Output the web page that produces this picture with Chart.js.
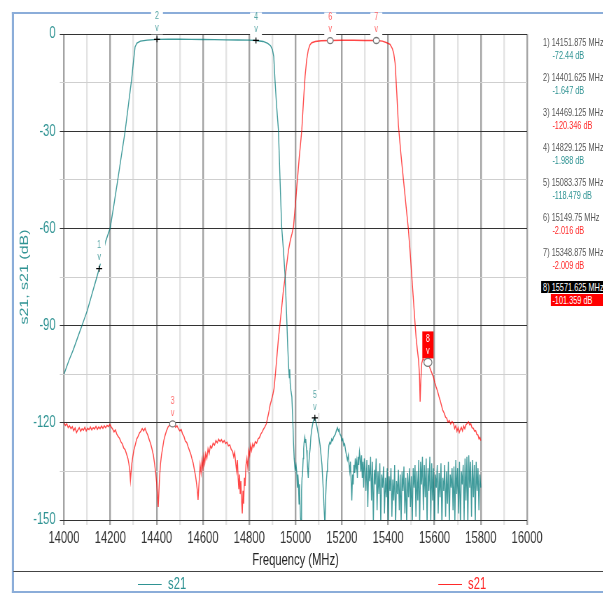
<!DOCTYPE html>
<html>
<head>
<meta charset="utf-8">
<script src="https://cdn.jsdelivr.net/npm/chart.js@4.4.1/dist/chart.umd.min.js"></script>
<style>
  html, body { margin: 0; padding: 0; background: #fff; overflow: hidden; }
  body { width: 603px; height: 593px; position: relative; }
  /* the whole plot is drawn wide and squeezed horizontally, like the source screenshot */
  #stage { position: absolute; left: 0; top: 0; width: 862px; height: 593px;
           transform: scaleX(0.7); transform-origin: 0 0;
           font-family: "Liberation Sans", Arial, sans-serif; }
  #frame { position: absolute; left: 17px; top: 12px; width: 900px; height: 577px;
           border-left: 3px solid #8badd9; border-top: 2px solid #8badd9; border-bottom: 2px solid #8badd9; }
  #sep { position: absolute; left: 19px; top: 571px; width: 900px; height: 1px; background: #444; }
  canvas { position: absolute; left: 0; top: 0; }
  .leg { position: absolute; top: 574px; height: 20px; line-height: 20px; font-size: 16px; white-space: nowrap; }
  .leg span { display: inline-block; width: 34px; height: 0; border-top: 1px solid; vertical-align: middle; margin-right: 9px; }
  .ro { position: absolute; font-size: 10.5px; line-height: 12px; height: 12px; white-space: nowrap; }
</style>
</head>
<body>
<div id="stage">
  <div id="frame"></div>
  <canvas id="chart" width="862" height="593"></canvas>
  <div id="sep"></div>
  <div id="legend"></div>
  <div id="readout"></div>
</div>
<script>
// --- data ---
const xTicks = [14000, 14200, 14400, 14600, 14800, 15000, 15200, 15400, 15600, 15800, 16000];
const yTicks = [0, -30, -60, -90, -120, -150];

// trace 1 (teal s21)
const tealFreq = [
  14000, 14020, 14040, 14060, 14080, 14100, 14120, 14140, 14151.875, 14165, 14180, 14199, 14215, 14230, 14247, 14264,
  14278, 14292, 14300, 14307, 14315, 14330, 14360, 14401.625, 14450, 14500, 14550, 14600, 14650, 14700, 14750, 14800,
  14829.125, 14860, 14880, 14892, 14900, 14906, 14911, 14918, 14926, 14933, 14940, 14948, 14955, 14962, 14966, 14969,
  14971, 14973, 14975, 14977, 14980, 14984, 14988, 14991, 14994, 14998, 15002, 15005, 15008, 15010, 15012, 15015,
  15017, 15019, 15021, 15024, 15026, 15028, 15030, 15033, 15035, 15037, 15040, 15042, 15044, 15046, 15048, 15050,
  15052, 15055, 15057, 15060, 15063, 15066, 15070, 15075, 15080, 15083.375, 15087, 15092, 15097, 15101, 15106, 15110,
  15114, 15117, 15120, 15123, 15127, 15130, 15133, 15136, 15138, 15141, 15144, 15148, 15152, 15156, 15160, 15164,
  15168, 15172, 15176, 15181, 15185, 15188, 15192, 15196, 15200, 15204, 15208, 15212, 15216, 15220, 15224, 15228,
  15231, 15234, 15237, 15240, 15243, 15246, 15249, 15252, 15255, 15258, 15261, 15264, 15267, 15270, 15273, 15276,
  15279, 15282, 15285, 15288, 15291, 15294, 15297, 15300, 15304, 15308, 15312, 15316, 15320, 15324, 15328, 15332,
  15336, 15340, 15344, 15348, 15352, 15356, 15360, 15364, 15368, 15372, 15376, 15380, 15384, 15388, 15392, 15396,
  15400, 15404, 15408, 15412, 15416, 15420, 15424, 15428, 15432, 15436, 15440, 15444, 15448, 15452, 15456, 15460,
  15464, 15468, 15472, 15476, 15480, 15484, 15488, 15492, 15496, 15500, 15504, 15508, 15512, 15516, 15520, 15524,
  15528, 15532, 15536, 15540, 15544, 15548, 15552, 15556, 15560, 15564, 15568, 15572, 15576, 15580, 15584, 15588,
  15592, 15596, 15600, 15604, 15608, 15612, 15616, 15620, 15624, 15628, 15632, 15636, 15640, 15644, 15648, 15652,
  15656, 15660, 15664, 15668, 15672, 15676, 15680, 15684, 15688, 15692, 15696, 15700, 15704, 15708, 15712, 15716,
  15720, 15724, 15728, 15732, 15736, 15740, 15744, 15748, 15752, 15756, 15760, 15764, 15768, 15772, 15776, 15780,
  15784, 15788, 15792, 15796, 15800
];
const tealDb = [
  -105, -101, -97.5, -93.5, -89.5, -85.5, -80.5, -75.5, -72.44, -68.5, -64, -60, -53, -46, -38, -30,
  -22, -14, -8.5, -4, -2.8, -2.2, -1.9, -1.647, -1.6, -1.6, -1.65, -1.7, -1.75, -1.8, -1.85, -1.9,
  -1.988, -2.3, -2.9, -3.6, -4.8, -7, -14, -22, -29.6, -45, -59.5, -67, -75, -88, -96, -101,
  -104, -106, -103.5, -108, -110, -112, -119, -126, -131, -134.6, -133, -135, -140, -136, -138, -145,
  -139, -144, -149, -152, -141, -137, -136, -131, -128, -126, -124.5, -126, -125, -127, -128.5, -131,
  -134, -137, -133, -130, -128, -124.5, -122, -120, -118.8, -118.479, -119.5, -121, -123, -124.5, -127, -130,
  -133, -137, -141, -146, -152, -143, -138, -135, -133, -130, -127, -126, -126.5, -125, -125.5, -124.5,
  -124, -123.5, -122.5, -121.5, -122.5, -122, -123.5, -124, -125.5, -125, -127, -126.5, -128.5, -130, -131.5, -130,
  -133, -135, -132, -138, -144, -136, -139, -133, -135.5, -131, -134, -132, -137, -130.5, -133, -129,
  -131, -135, -130, -137, -132, -140, -131, -134, -141, -131.5, -146, -133, -138, -130.5, -144, -132,
  -151, -134.5, -139, -131, -147, -135, -142, -132.5, -152, -136, -140, -133.5, -148, -137, -143, -134,
  -152, -136.5, -141, -134, -149, -137.5, -144, -133, -152, -138, -142, -134.5, -147, -136, -151, -135,
  -141, -133.5, -148, -137, -152, -135.5, -143, -134, -146, -136.5, -152, -134, -140, -133, -149, -135,
  -144, -131.5, -152, -132, -139, -130.5, -147, -133, -143, -131, -152, -134, -141, -130.5, -150, -132.5,
  -144, -134, -152, -136, -140, -133, -148, -135.5, -143, -132.5, -152, -137, -141, -133, -149, -135,
  -145, -132, -152, -136, -140, -134, -147, -133.5, -151, -131.5, -142, -134, -148, -132, -152, -135,
  -139, -133, -150, -131, -144, -130.5, -152, -130, -140, -132, -149, -131.5, -143, -133, -152, -132,
  -141, -134, -147, -136, -140
];

// trace 2 (red s21)
const redFreq = [
  14000, 14006, 14012, 14018, 14024, 14030, 14036, 14042, 14048, 14054, 14060, 14066, 14072, 14078, 14084, 14090,
  14096, 14102, 14108, 14114, 14120, 14126, 14132, 14138, 14144, 14150, 14156, 14162, 14168, 14174, 14180, 14186,
  14192, 14198, 14204, 14210, 14216, 14222, 14228, 14234, 14240, 14246, 14252, 14258, 14264, 14270, 14276, 14280,
  14284, 14287, 14290, 14293, 14297, 14302, 14308, 14314, 14320, 14326, 14332, 14338, 14344, 14350, 14356, 14362,
  14368, 14374, 14380, 14386, 14391, 14396, 14400, 14404, 14407, 14410, 14413, 14417, 14421, 14426, 14431, 14437,
  14443, 14450, 14456, 14462, 14469.125, 14476, 14482, 14488, 14494, 14500, 14506, 14512, 14518, 14524, 14530, 14536,
  14542, 14548, 14553, 14558, 14563, 14568, 14572, 14576, 14579, 14582, 14585, 14588, 14592, 14596, 14600, 14604,
  14608, 14612, 14617, 14622, 14627, 14632, 14638, 14644, 14650, 14656, 14662, 14668, 14674, 14680, 14686, 14692,
  14698, 14704, 14710, 14716, 14722, 14728, 14733, 14737, 14741, 14745, 14749, 14752, 14755, 14758, 14761, 14764,
  14767, 14770, 14773, 14776, 14779, 14782, 14786, 14790, 14794, 14798, 14802, 14806, 14810, 14815, 14820, 14826,
  14832, 14838, 14844, 14850, 14856, 14862, 14868, 14874, 14879, 14884, 14890, 14896, 14902, 14907, 14913, 14919,
  14926, 14933, 14940, 14947, 14955, 14963, 14970, 14978, 14985, 14991, 15000, 15008, 15016, 15022, 15027, 15034,
  15041, 15048, 15055, 15062, 15070, 15085, 15110, 15149.75, 15200, 15250, 15300, 15348.875, 15375, 15394, 15408, 15418,
  15424, 15430, 15437, 15444, 15455, 15466, 15477, 15487, 15495, 15502, 15509, 15516, 15521, 15526, 15531, 15535,
  15538, 15541, 15545, 15550, 15558, 15565, 15571.625, 15578, 15584, 15590, 15595, 15601, 15607, 15613, 15619, 15624,
  15630, 15636, 15642, 15648, 15653, 15658, 15664, 15670, 15676, 15682, 15687, 15692, 15697, 15702, 15707, 15711,
  15716, 15721, 15726, 15731, 15736, 15741, 15747, 15752, 15757, 15762, 15768, 15773, 15778, 15783, 15788, 15792,
  15796, 15800
];
const redDb = [
  -120, -120.8, -120.3, -121.5, -120.9, -121.8, -121.2, -122.4, -121.6, -123, -122.2, -121.5, -122.6, -121.8, -122.3, -121.4,
  -122.5, -121.7, -122.1, -121.3, -122.2, -121.5, -121.9, -121.1, -122, -121.3, -121.8, -121, -121.7, -120.9, -121.5, -120.8,
  -121.2, -120.5, -121.3, -121.9, -122.8, -122.2, -123.5, -124.2, -124.8, -125.9, -126.5, -127.8, -128.3, -129.6, -131, -132.5,
  -134.5, -137.8, -135, -132.5, -130.5, -128.4, -126.8, -125, -124.2, -123.1, -122.6, -121.8, -122.5, -121.7, -122.9, -123.8,
  -125.2, -126.4, -128.1, -130, -132.5, -135.5, -138.5, -142.5, -146, -141, -136.5, -132.5, -130, -127.8, -125.5, -123.8,
  -122.4, -121.2, -120.8, -120.5, -120.346, -120.6, -121.4, -120.9, -121.8, -122.5, -122.1, -123.4, -124.2, -125.6, -126.1, -127.4,
  -128.6, -129.8, -131.2, -132.5, -134.5, -136.4, -138.5, -141, -143.8, -140, -136.8, -133, -135.5, -131.5, -134, -130.2,
  -132.5, -129.5, -131, -128, -129.5, -127.2, -127.8, -126.3, -126.9, -125.5, -126.2, -125.1, -125.8, -125.2, -126.1, -125.5,
  -126.4, -126, -127.1, -126.8, -128.2, -128.8, -130.5, -129.2, -132, -134.8, -131.5, -137, -140.5, -136, -142, -138,
  -144, -148, -141, -145, -137, -139.5, -133, -131, -134, -128.5, -130, -127, -128.6, -126.5, -127.4, -125.8,
  -126.3, -125, -124.6, -123.5, -122.8, -121.9, -121.2, -120.3, -118.6, -117, -114.6, -113, -111.3, -109.5, -105, -100,
  -94, -89.3, -84.5, -79.5, -75, -70.5, -66.5, -63.5, -61.5, -59.5, -52, -45, -38, -33.5, -29.6, -21,
  -13.2, -8, -4.9, -3.4, -2.7, -2.3, -2.1, -2.016, -1.95, -1.95, -2, -2.009, -2.2, -2.7, -3.2, -4.5,
  -6, -9, -18, -28, -37, -45, -53, -60, -67.5, -74.9, -82, -89.3, -94, -97.5, -100.6, -105,
  -113.5, -107, -101.6, -100.3, -100.8, -101.2, -101.359, -102.6, -103.8, -104.9, -105.8, -107.5, -108.9, -110.2, -111.8, -113,
  -114.6, -116.2, -117, -118.3, -118.6, -119.8, -119.3, -120.4, -119.6, -120.2, -121.8, -120.9, -122.6, -121.5, -123, -122.2,
  -121.4, -122.5, -121, -121.8, -120.6, -120.2, -119.7, -120.6, -120.3, -121.5, -121.7, -122.6, -122.4, -123.6, -123.8, -124.9,
  -124.5, -125.5
];

// markers: 0 = teal trace, 1 = red trace
const markerFreq = [14151.875, 14401.625, 14469.125, 14829.125, 15083.375, 15149.75, 15348.875, 15571.625];
const markerDb = [-72.44, -1.647, -120.346, -1.988, -118.479, -2.016, -2.009, -101.359];
const markerTrace = [0, 0, 1, 0, 0, 1, 1, 1];
const activeMarker = 7;

const SX = 0.7; // horizontal squeeze of the stage
const TEAL = '#2f9393';
const RED = '#ff2a2a';
const FONT = '"Liberation Sans", Arial, sans-serif';

function toPoints(xs, ys) {
    return xs.map((f, i) => ({ x: f, y: ys[i] }));
}

// marker labels / symbols
const markerPlugin = {
    id: 'markers',
    afterDatasetsDraw(chart) {
        const { ctx, scales: { x, y } } = chart;
        ctx.save();
        ctx.font = '10px ' + FONT;
        ctx.textAlign = 'center';
        ctx.textBaseline = 'middle';
        markerFreq.forEach((f, i) => {
            const px = x.getPixelForValue(f);
            const py = y.getPixelForValue(markerDb[i]);
            const teal = markerTrace[i] === 0;
            if (i === activeMarker) {
                ctx.fillStyle = '#ff0000';
                ctx.fillRect(px - 8, py - 31, 16, 27);
                ctx.fillStyle = '#fff';
            } else {
                ctx.fillStyle = '#fff';
                ctx.fillRect(px - 8.5, py - 28, 17, 23);
                ctx.fillStyle = teal ? '#56a5a5' : '#ff6666';
            }
            ctx.fillText(String(i + 1), px, py - 23);
            ctx.fillText('v', px, py - 11);

            if (teal) {
                ctx.strokeStyle = '#000';
                ctx.lineWidth = 1.3;
                ctx.beginPath();
                ctx.moveTo(px - 4.3, py); ctx.lineTo(px + 4.3, py);
                ctx.moveTo(px, py - 3); ctx.lineTo(px, py + 3);
                ctx.stroke();
            } else {
                const r = i === activeMarker ? 4 : 3;
                ctx.fillStyle = '#fff';
                ctx.strokeStyle = '#777';
                ctx.lineWidth = 1.3;
                ctx.beginPath();
                ctx.ellipse(px, py, r / SX, r, 0, 0, Math.PI * 2);
                ctx.fill();
                ctx.stroke();
            }
        });
        ctx.restore();
    }
};

new Chart(document.getElementById('chart'), {
    type: 'line',
    data: {
        datasets: [
            { label: 's21', data: toPoints(tealFreq, tealDb), borderColor: 'rgba(0,122,122,0.75)', borderWidth: 1.4, pointRadius: 0, tension: 0 },
            { label: 's21', data: toPoints(redFreq, redDb), borderColor: 'rgba(255,0,0,0.72)', borderWidth: 1.4, pointRadius: 0, tension: 0 }
        ]
    },
    options: {
        responsive: false,
        animation: false,
        events: [],
        layout: { padding: { left: 0, top: 34, right: 109, bottom: 23 } },
        plugins: { legend: { display: false }, tooltip: { enabled: false } },
        scales: {
            x: {
                type: 'linear', min: 14000, max: 16000,
                afterFit: s => { s.height = 50; },
                ticks: {
                    stepSize: 100, autoSkip: false, maxRotation: 0, padding: 4,
                    color: '#333', font: { family: FONT, size: 16 },
                    callback: v => xTicks.includes(v) ? String(v) : ''
                },
                grid: {
                    tickLength: 5,
                    color: c => xTicks.includes(c.tick.value) ? '#a3a3a3' : '#e3e3e3',
                    lineWidth: 2.4
                },
                border: { display: false },
                title: { display: true, text: 'Frequency (MHz)', color: '#222', font: { family: FONT, size: 16 }, padding: 0 }
            },
            y: {
                min: -150, max: 0,
                afterFit: s => { s.width = 91.4; },
                ticks: {
                    stepSize: 15, padding: 6,
                    color: TEAL, font: { family: FONT, size: 16 },
                    callback: v => yTicks.includes(v) ? String(v) : ''
                },
                grid: {
                    tickLength: 6,
                    color: c => yTicks.includes(c.tick.value) ? '#333' : '#cfcfcf',
                    lineWidth: 1
                },
                border: { display: false },
                title: { display: true, text: 's21, s21 (dB)', color: TEAL, font: { family: FONT, size: 16 }, padding: { top: 26 } }
            }
        }
    },
    plugins: [markerPlugin]
});

// --- legend below the plot ---
const legend = document.getElementById('legend');
[{ left: 138, color: TEAL }, { left: 438, color: RED }].forEach(item => {
    const d = document.createElement('div');
    d.className = 'leg';
    d.style.left = (item.left / SX) + 'px';
    d.style.color = item.color;
    d.innerHTML = '<span style="border-color:' + item.color + '"></span>s21';
    legend.appendChild(d);
});

// --- marker read-out on the right ---
const readout = document.getElementById('readout');
markerFreq.forEach((f, i) => {
    const top = 36 + i * 35;
    const a = document.createElement('div');
    a.className = 'ro';
    a.style.left = (541 / SX) + 'px';
    a.style.top = top + 'px';
    a.style.paddingLeft = '3px';
    a.textContent = (i + 1) + ') ' + f + ' MHz';
    const b = document.createElement('div');
    b.className = 'ro';
    b.style.left = (551 / SX) + 'px';
    b.style.top = (top + 13) + 'px';
    b.style.paddingLeft = '2px';
    b.textContent = markerDb[i] + ' dB';
    if (i === activeMarker) {
        a.style.background = '#000'; a.style.color = '#fff'; a.style.width = '140px'; a.style.top = (top - 0.5) + 'px';
        b.style.background = '#ff0000'; b.style.color = '#fff'; b.style.width = '120px';
    } else {
        a.style.color = '#555';
        b.style.color = markerTrace[i] === 0 ? TEAL : RED;
    }
    readout.appendChild(a);
    readout.appendChild(b);
});
</script>
</body>
</html>
